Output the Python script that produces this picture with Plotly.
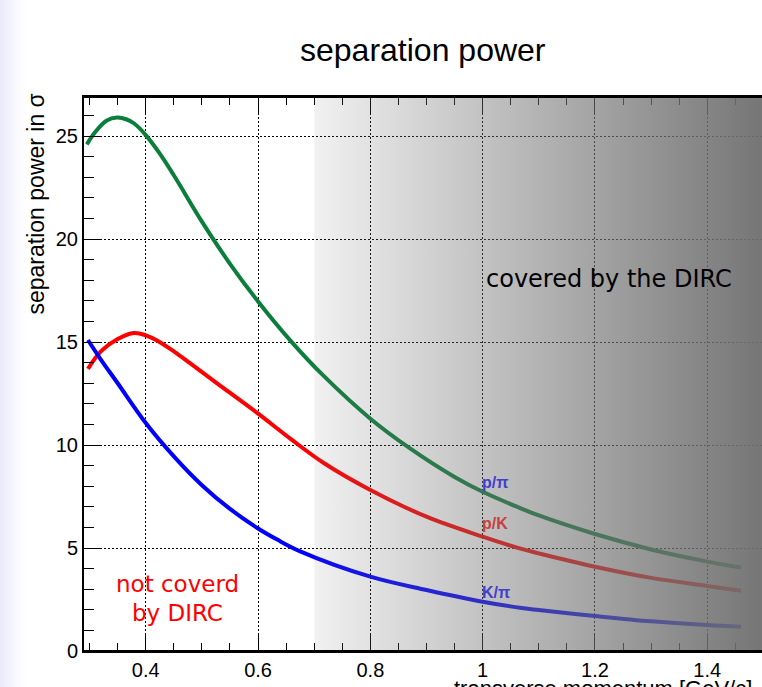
import base64
import plotly.graph_objects as go

# ---------------- data ----------------
x_ppi = [0.295, 0.31, 0.33, 0.349, 0.365, 0.38, 0.40, 0.425, 0.45, 0.50, 0.55, 0.60, 0.658, 0.716, 0.80, 0.87, 0.95, 1.00, 1.066, 1.10, 1.20, 1.30, 1.40, 1.46]
y_ppi = [24.6, 25.2, 25.75, 25.9, 25.82, 25.6, 25.05, 24.15, 23.1, 20.85, 18.8, 16.97, 15.06, 13.38, 11.28, 9.85, 8.45, 7.73, 6.95, 6.58, 5.68, 4.93, 4.34, 4.05]

x_pk = [0.297, 0.32, 0.35, 0.379, 0.40, 0.42, 0.45, 0.48, 0.527, 0.599, 0.658, 0.717, 0.80, 0.90, 1.00, 1.066, 1.10, 1.20, 1.30, 1.40, 1.46]
y_pk = [13.7, 14.55, 15.15, 15.44, 15.33, 15.08, 14.55, 13.95, 13.0, 11.55, 10.3, 9.13, 7.82, 6.52, 5.55, 4.98, 4.74, 4.09, 3.55, 3.16, 2.93]

x_kpi = [0.297, 0.32, 0.35, 0.40, 0.45, 0.50, 0.55, 0.60, 0.634, 0.675, 0.80, 0.90, 1.00, 1.066, 1.10, 1.20, 1.30, 1.40, 1.46]
y_kpi = [15.1, 14.15, 13.0, 11.07, 9.45, 8.05, 6.9, 5.95, 5.41, 4.84, 3.61, 2.96, 2.39, 2.10, 1.99, 1.70, 1.44, 1.26, 1.18]

x_tickvals = [0.4, 0.6, 0.8, 1.0, 1.2, 1.4]
x_ticktext = ["0.4", "0.6", "0.8", "1", "1.2", "1.4"]
y_tickvals = [0, 5, 10, 15, 20, 25]
y_ticktext = ["0", "5", "10", "15", "20", "25"]

DIRC_START = 0.7
X_MIN, X_MAX = 0.29, 0.29 + 678 / 561.5
Y_MIN, Y_MAX = 0.0, 26.9

# ---------------- geometry helpers ----------------
W, H = 762, 687
ML, MR, MT, MB = 84, 0, 97, 36
PW, PH = W - ML - MR, H - MT - MB


def px(xp):
    return (xp - ML) / PW


def py(yp):
    return (H - MB - yp) / PH


FONT = "Liberation Sans, Arial, Helvetica, sans-serif"
DJV = "DejaVu Sans, Verdana, sans-serif"

fig = go.Figure()

fig.add_trace(go.Scatter(x=x_ppi, y=y_ppi, mode="lines", line=dict(color="#0b7e3b", width=4, shape="spline"),
                         name="p/π", showlegend=False, hoverinfo="skip"))
fig.add_trace(go.Scatter(x=x_pk, y=y_pk, mode="lines", line=dict(color="#ff0000", width=4, shape="spline"),
                         name="p/K", showlegend=False, hoverinfo="skip"))
fig.add_trace(go.Scatter(x=x_kpi, y=y_kpi, mode="lines", line=dict(color="#0000ff", width=4, shape="spline"),
                         name="K/π", showlegend=False, hoverinfo="skip"))

# grey fade overlay (SVG gradient image) for the DIRC region
g = 112
a0 = (255 - 241) / (255 - g)
a1 = 0.96
svg = (
    "<svg xmlns='http://www.w3.org/2000/svg' width='200' height='200' viewBox='0 0 200 200' "
    "preserveAspectRatio='none'><defs><linearGradient id='gr' x1='0' y1='0' x2='1' y2='0'>"
    f"<stop offset='0' stop-color='rgb({g},{g},{g})' stop-opacity='{a0:.3f}'/>"
    f"<stop offset='1' stop-color='rgb({g},{g},{g})' stop-opacity='{a1:.3f}'/>"
    "</linearGradient></defs><rect x='0' y='0' width='200' height='200' fill='url(#gr)'/></svg>"
)
svg_uri = "data:image/svg+xml;base64," + base64.b64encode(svg.encode()).decode()

images = [dict(source=svg_uri, xref="x", yref="paper", x=DIRC_START, y=1,
               sizex=X_MAX - DIRC_START, sizey=1, xanchor="left", yanchor="top",
               sizing="stretch", layer="above", opacity=1)]

shapes = []
# lavender shading on the left edge of the picture
for i in range(14):
    x0p = i * 2
    x1p = x0p + 2
    a = 0.42 * (1 - i / 14) ** 1.5
    shapes.append(dict(type="rect", xref="paper", yref="paper", x0=px(x0p), x1=px(x1p),
                       y0=py(H), y1=py(0), fillcolor=f"rgba(205,205,250,{a:.3f})",
                       line=dict(width=0), layer="below"))

# frame lines redrawn above overlay
shapes.append(dict(type="line", xref="paper", yref="paper", x0=0, x1=1, y0=0, y1=0,
                   line=dict(color="black", width=2), layer="above"))
shapes.append(dict(type="line", xref="paper", yref="paper", x0=0, x1=1, y0=1, y1=1,
                   line=dict(color="black", width=2), layer="above"))

annotations = [
    dict(text="separation power", xref="paper", yref="paper", x=px(423), y=py(50),
         xanchor="center", yanchor="middle", showarrow=False, font=dict(family=FONT, size=32, color="black")),
    dict(text="separation power in σ", xref="paper", yref="paper", x=px(35), y=py(92),
         xanchor="center", yanchor="top", textangle=-90, showarrow=False,
         font=dict(family=FONT, size=23, color="black")),
    dict(text="transverse momentum [GeV/c]", xref="paper", yref="paper", x=px(452), y=py(674),
         xanchor="left", yanchor="top", showarrow=False, font=dict(family=FONT, size=22, color="black")),
    dict(text="covered by the DIRC", xref="paper", yref="paper", x=px(609), y=py(279),
         xanchor="center", yanchor="middle", showarrow=False, font=dict(family=DJV, size=24, color="black")),
    dict(text="not coverd", xref="paper", yref="paper", x=px(177), y=py(584),
         xanchor="center", yanchor="middle", showarrow=False, font=dict(family=DJV, size=23, color="#ff0000")),
    dict(text="by DIRC", xref="paper", yref="paper", x=px(177), y=py(613),
         xanchor="center", yanchor="middle", showarrow=False, font=dict(family=DJV, size=23, color="#ff0000")),
    dict(text="<b>p/π</b>", xref="x", yref="y", x=1.0, y=8.2, xanchor="left", yanchor="middle",
         showarrow=False, xshift=-3, font=dict(family=FONT, size=16, color="rgb(64,64,204)")),
    dict(text="<b>p/K</b>", xref="x", yref="y", x=1.0, y=6.17, xanchor="left", yanchor="middle",
         showarrow=False, xshift=-3, font=dict(family=FONT, size=16, color="rgb(200,64,64)")),
    dict(text="<b>K/π</b>", xref="x", yref="y", x=1.0, y=2.86, xanchor="left", yanchor="middle",
         showarrow=False, xshift=-3, font=dict(family=FONT, size=16, color="rgb(64,64,204)")),
]

fig.update_layout(
    width=W, height=H,
    margin=dict(l=ML, r=MR, t=MT, b=MB, pad=0),
    paper_bgcolor="white", plot_bgcolor="white",
    shapes=shapes, annotations=annotations, images=images,
    showlegend=False,
)

fig.update_xaxes(
    range=[X_MIN, X_MAX], showline=True, linecolor="black", linewidth=2, mirror="ticks",
    ticks="inside", ticklen=16, tickwidth=1, tickcolor="black",
    tickvals=x_tickvals, ticktext=x_ticktext,
    tickfont=dict(family=FONT, size=20, color="black"),
    showgrid=True, gridcolor="black", gridwidth=1, griddash="2px,2px", zeroline=False,
    minor=dict(dtick=0.05, tick0=0.0, ticks="inside", ticklen=8, tickcolor="black", tickwidth=1, showgrid=False),
)
fig.update_yaxes(
    range=[Y_MIN, Y_MAX], showline=True, linecolor="black", linewidth=2, mirror=False,
    ticks="inside", ticklen=16, tickwidth=1, tickcolor="black",
    tickvals=y_tickvals, ticktext=y_ticktext,
    tickfont=dict(family=FONT, size=20, color="black"),
    showgrid=True, gridcolor="black", gridwidth=1, griddash="2px,2px", zeroline=False,
    minor=dict(dtick=1, tick0=0, ticks="inside", ticklen=10, tickcolor="black", tickwidth=1, showgrid=False),
)

fig.write_html("out.html", config={"displayModeBar": False},
               post_script="document.body.style.margin='0';document.body.style.overflow='hidden';")
